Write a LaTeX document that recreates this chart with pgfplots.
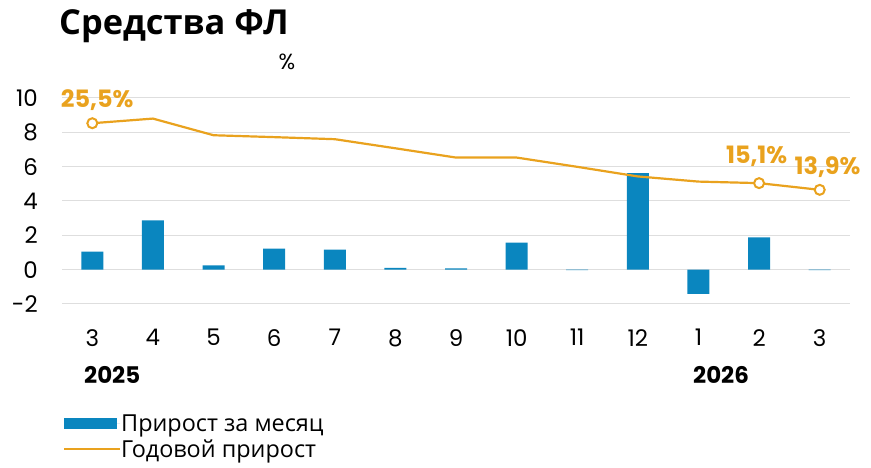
\documentclass[border=0pt]{standalone}
\usepackage{fontspec}
\setmainfont{Open Sans}
\newfontfamily\pop{Poppins}
\usepackage{pgfplots}
\pgfplotsset{compat=1.18}
\definecolor{barblue}{HTML}{0A86BF}
\definecolor{lineor}{HTML}{E9A21E}
\definecolor{gridc}{HTML}{DEDEDE}
\begin{document}
\begin{tikzpicture}[x=1bp,y=1bp]
\useasboundingbox (0,0) rectangle (871,468);
\node[anchor=base west, inner sep=0pt, font=\fontsize{34.5}{40}\selectfont\bfseries] at (59,433) {Средства ФЛ};
\node[anchor=base, inner sep=0pt, font=\pop\fontsize{22}{26}\selectfont] at (287,398) {\%};
\node[anchor=base west, inner sep=0pt, font=\pop\bfseries\fontsize{23}{27}\selectfont] at (84,84) {2025};
\node[anchor=base west, inner sep=0pt, font=\pop\bfseries\fontsize{23}{27}\selectfont] at (693,84) {2026};
\begin{axis}[
  at={(62bp,164bp)}, anchor=south west, scale only axis,
  width=788bp, height=206bp,
  xmin=-0.5, xmax=12.5, ymin=-2, ymax=10,
  clip=false,
  axis line style={draw=none}, tick style={draw=none},
  ymajorgrids, grid style={gridc, line width=1bp},
  xtick={0,...,12}, xticklabels={3,4,5,6,7,8,9,10,11,12,1,2,3},
  ytick={-2,0,2,4,6,8,10},
  /pgf/number format/assume math mode=true,
  tick label style={font=\pop\fontsize{23}{27}\selectfont, inner sep=0pt},
  yticklabel style={anchor=east, xshift=-24bp},
  xticklabel style={anchor=north, yshift=-25bp},
  legend style={at={(axis description cs:0.001,-0.535)}, anchor=north west, draw=none, fill=none, inner sep=0pt,
    font=\fontsize{23.5}{27}\selectfont, row sep=7bp, nodes={inner sep=0pt, anchor=west}},
  legend cell align=left,
]
\addplot[ybar, bar width=22bp, fill=barblue, draw=none,
  legend image code/.code={\path (0bp,0bp) -- (56bp,0bp); \fill[barblue] (0bp,-5.5bp) rectangle (53bp,5.5bp);}]
  coordinates {(0,1.05) (1,2.87) (2,0.25) (3,1.22) (4,1.16) (5,0.10) (6,0.08) (7,1.57) (8,-0.03) (9,5.62) (10,-1.41) (11,1.88) (12,-0.02)};
\addlegendentry{Прирост за месяц}
\addplot[lineor, line width=2.2bp, mark=none,
  legend image code/.code={\path (0bp,0bp) -- (56bp,0bp); \draw[lineor, line width=2.2bp] (0bp,0bp) -- (53bp,0bp);}]
  coordinates {(0,8.53) (1,8.80) (2,7.83) (3,7.72) (4,7.60) (5,7.07) (6,6.53) (7,6.53) (8,5.99) (9,5.43) (10,5.13) (11,5.04) (12,4.65)};
\addlegendentry{Годовой прирост}
\addplot[only marks, mark=*, mark size=5bp, mark options={fill=white, draw=lineor, line width=2bp}, forget plot]
  coordinates {(0,8.53) (11,5.04) (12,4.65)};
\node[font=\pop\bfseries\fontsize{24}{28}\selectfont, text=lineor, inner sep=0pt] at (axis cs:0.08,9.9) {25,5\%};
\node[font=\pop\bfseries\fontsize{24}{28}\selectfont, text=lineor, inner sep=0pt] at (axis cs:10.96,6.58) {15,1\%};
\node[font=\pop\bfseries\fontsize{24}{28}\selectfont, text=lineor, inner sep=0pt] at (axis cs:12.13,6.0) {13,9\%};
\end{axis}
\end{tikzpicture}
\end{document}
